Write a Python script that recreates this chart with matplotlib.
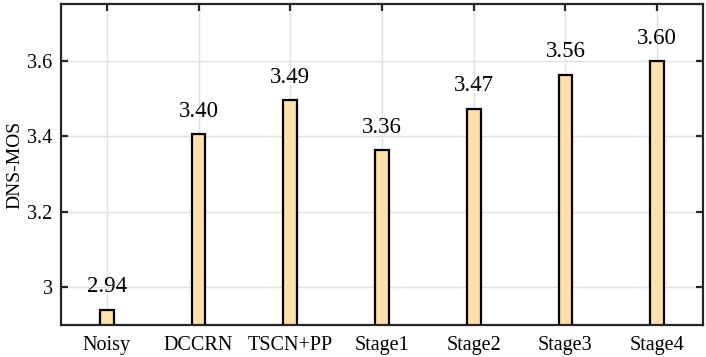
import matplotlib.pyplot as plt
import numpy as np
from matplotlib.ticker import FuncFormatter

methods = ["Noisy", "DCCRN", "TSCN+PP", "Stage1", "Stage2", "Stage3", "Stage4"]
dnsmos = [2.94, 3.405, 3.495, 3.363, 3.472, 3.563, 3.598]
labels = ["2.94", "3.40", "3.49", "3.36", "3.47", "3.56", "3.60"]

plt.rcParams["font.family"] = ["Liberation Serif", "DejaVu Serif"]

fig = plt.figure(figsize=(7.06, 3.57), dpi=100)
ax = fig.add_axes([61 / 706, 32 / 357, 642 / 706, 321 / 357])

x = np.arange(1, len(methods) + 1)
ax.bar(x, dnsmos, width=0.15, bottom=0, color="#FFDFAA", edgecolor="black",
       linewidth=1.6, zorder=2)
for xi, v, s in zip(x, dnsmos, labels):
    ax.annotate(s, (xi, v), xytext=(0, 9), textcoords="offset points",
                ha="center", va="bottom", fontsize=16.5)

ax.set_xlim(0.5, 7.5)
ax.set_ylim(2.9, 3.75)
ax.set_xticks(x)
ax.set_xticklabels(methods)
ax.set_yticks([3.0, 3.2, 3.4, 3.6])
ax.yaxis.set_major_formatter(FuncFormatter(lambda v, p: f"{v:g}"))
ax.set_ylabel("DNS-MOS", fontsize=14, labelpad=3)

ax.grid(True, color="#E0E0E0", linewidth=1.0, zorder=0)
ax.set_axisbelow(True)
ax.tick_params(direction="in", top=True, right=True, length=5, width=1.6,
               labelsize=14.5, colors="#262626", labelcolor="black")
ax.tick_params(axis="x", pad=8)
ax.tick_params(axis="y", pad=6)
for sp in ax.spines.values():
    sp.set_linewidth(1.6)
    sp.set_color("#262626")
    sp.set_zorder(5)

fig.savefig("out.png", dpi=100)
